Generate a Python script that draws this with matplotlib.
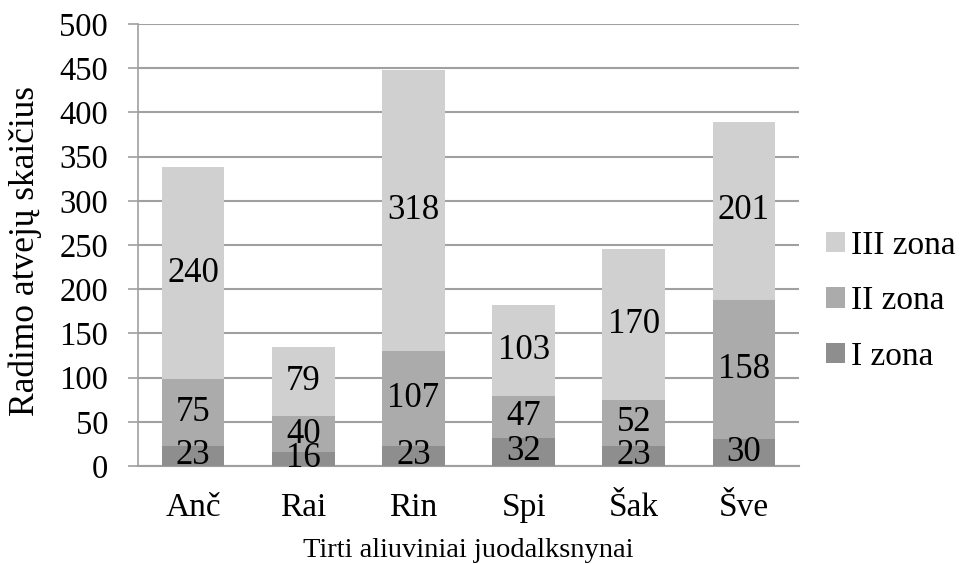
import matplotlib
matplotlib.use("Agg")
import matplotlib.pyplot as plt
import numpy as np

categories = ["Anč", "Rai", "Rin", "Spi", "Šak", "Šve"]
zona_I = [23, 16, 23, 32, 23, 30]
zona_II = [75, 40, 107, 47, 52, 158]
zona_III = [240, 79, 318, 103, 170, 201]
series_names = ["I zona", "II zona", "III zona"]
y_ticks = [0, 50, 100, 150, 200, 250, 300, 350, 400, 450, 500]

colors = ["#8e8e8e", "#ababab", "#d0d0d0"]
grid_color = "#a0a0a0"

plt.rcParams["font.family"] = ["Liberation Serif", "DejaVu Serif"]

fig = plt.figure(figsize=(9.63, 5.64), dpi=100)
ax = fig.add_axes([138 / 963, 1 - 466 / 564, (799 - 138) / 963, (466 - 24) / 564])

x = np.arange(len(categories))
bottom = np.zeros(len(categories))
bars = []
for vals, col, name in zip([zona_I, zona_II, zona_III], colors, series_names):
    b = ax.bar(x, vals, width=0.57, bottom=bottom, color=col, label=name, zorder=3)
    for xi, v, b0 in zip(x, vals, bottom):
        ax.text(xi, b0 + v / 2, str(v), ha="center", va="center",
                fontsize=25, color="black", zorder=4)
    bars.append(b)
    bottom = bottom + np.array(vals)

ax.set_xlim(-0.5, len(categories) - 0.5)
ax.set_ylim(0, 500)
ax.set_yticks(y_ticks)
ax.set_yticklabels([str(t) for t in y_ticks], fontsize=23.5)
ax.set_xticks(x)
ax.set_xticklabels(categories, fontsize=24)
ax.tick_params(axis="x", length=0, pad=19)
ax.tick_params(axis="y", length=7.5, width=1.2, color=grid_color, pad=14)

ax.yaxis.grid(True, color=grid_color, linewidth=1.5, zorder=0)
ax.set_axisbelow(True)
for side in ["top", "right"]:
    ax.spines[side].set_visible(False)
ax.spines["left"].set_color(grid_color)
ax.spines["left"].set_linewidth(1.2)
ax.spines["bottom"].set_color(grid_color)
ax.spines["bottom"].set_linewidth(1.5)

ax.set_ylabel("Radimo atvejų skaičius", fontsize=25.5)
ax.yaxis.set_label_coords(-96 / 661, (466 - 251) / 442)
ax.set_xlabel("Tirti aliuviniai juodalksnynai", fontsize=20.5, labelpad=11)

handles = [bars[2], bars[1], bars[0]]
labels = ["III zona", "II zona", "I zona"]
leg = fig.legend(handles, labels, loc="center left", bbox_to_anchor=(826 / 963, 1 - 301 / 564),
                 frameon=False, fontsize=24, handlelength=0.58, handleheight=0.58,
                 handletextpad=0.18, labelspacing=0.75, borderaxespad=0, borderpad=0)

fig.savefig("out.png", dpi=100, facecolor="white")
